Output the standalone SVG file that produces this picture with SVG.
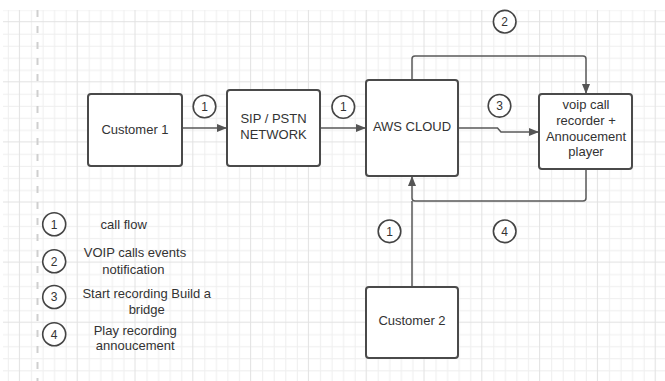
<svg xmlns="http://www.w3.org/2000/svg" width="665" height="381" viewBox="0 0 665 381">
<defs>
<pattern id="grid" patternUnits="userSpaceOnUse" x="18.9" y="21.2" width="57.8" height="60.1">
<rect x="0" y="0" width="57.8" height="60.1" fill="#ffffff"/>
<g fill="#efefef">
<rect x="12.06" y="0" width="1" height="60.1"/>
<rect x="23.62" y="0" width="1" height="60.1"/>
<rect x="35.18" y="0" width="1" height="60.1"/>
<rect x="46.74" y="0" width="1" height="60.1"/>
<rect x="0" y="12.52" width="57.8" height="1"/>
<rect x="0" y="24.54" width="57.8" height="1"/>
<rect x="0" y="36.56" width="57.8" height="1"/>
<rect x="0" y="48.58" width="57.8" height="1"/>
</g>
<g fill="#e2e2e2">
<rect x="0" y="0" width="1" height="60.1"/>
<rect x="0" y="0" width="57.8" height="1"/>
</g>
</pattern>
<marker id="arr" viewBox="0 0 10 8" refX="10" refY="4" markerWidth="10" markerHeight="8" markerUnits="userSpaceOnUse" orient="auto">
<path d="M0,0 L10,4 L0,8 Z" fill="#555555"/>
</marker>
<style>
.node rect{fill:#ffffff;stroke:#4a4a4a;stroke-width:2}
.t{font-family:"Liberation Sans",Arial,sans-serif;font-size:13px;fill:#333333;text-anchor:middle}
.badge circle{fill:#ffffff;stroke:#444444;stroke-width:1.6}
.badge text{font-family:"Liberation Sans",Arial,sans-serif;font-size:12px;fill:#333333;text-anchor:middle}
.conn{fill:none;stroke:#595959;stroke-width:1.5}
</style>
</defs>
<rect x="0" y="0" width="665" height="381" fill="#ffffff"/>
<rect x="3" y="10" width="662" height="371" fill="url(#grid)"/>
<line x1="37.5" y1="10" x2="37.5" y2="381" stroke="#cfcfcf" stroke-width="2" stroke-dasharray="7,9"/>

<g id="connectors">
<path class="conn" d="M182,128 L227,128" marker-end="url(#arr)"/>
<path class="conn" d="M320,128 L366,128" marker-end="url(#arr)"/>
<path class="conn" d="M412,80 L412,59 Q412,56 415,56 L583,56 Q586,56 586,59 L586,94" marker-end="url(#arr)"/>
<path class="conn" d="M458,128 L497.5,128 L501,132 L539,132" marker-end="url(#arr)"/>
<path class="conn" d="M586,169 L586,198 Q586,201 583,201 L415,201 Q412,201 412,198 L412,176" marker-end="url(#arr)"/>
<path class="conn" d="M412,287 L412,201"/>
</g>

<g id="customer1" class="node">
<rect x="88" y="94" width="94" height="72" rx="3"/>
<text class="t" x="135" y="133.5">Customer 1</text>
</g>
<g id="sip" class="node">
<rect x="227" y="90" width="93" height="76" rx="3"/>
<text class="t" x="273.5" y="123">SIP / PSTN</text>
<text class="t" x="273.5" y="139">NETWORK</text>
</g>
<g id="aws" class="node">
<rect x="366" y="80" width="92" height="96" rx="3"/>
<text class="t" x="412" y="131">AWS CLOUD</text>
</g>
<g id="recorder" class="node">
<rect x="539" y="94" width="93" height="75" rx="3"/>
<text class="t" x="586" y="108.5">voip call</text>
<text class="t" x="586" y="124.5">recorder +</text>
<text class="t" x="586" y="140.5">Annoucement</text>
<text class="t" x="586" y="156">player</text>
</g>
<g id="customer2" class="node">
<rect x="366" y="287" width="92" height="71" rx="3"/>
<text class="t" x="412" y="324.5">Customer 2</text>
</g>

<g id="badges" class="badge">
<g id="b1a"><circle cx="204.5" cy="106.5" r="11.3"/><text x="204.5" y="110.8">1</text></g>
<g id="b1b"><circle cx="343.3" cy="107" r="11.3"/><text x="343.3" y="111.3">1</text></g>
<g id="b2"><circle cx="504.7" cy="21.7" r="11.3"/><text x="504.7" y="26">2</text></g>
<g id="b3"><circle cx="499.5" cy="105.8" r="11.3"/><text x="499.5" y="110.1">3</text></g>
<g id="b4"><circle cx="504.7" cy="231.3" r="11.3"/><text x="504.7" y="235.6">4</text></g>
<g id="b1c"><circle cx="389.5" cy="231.3" r="11.3"/><text x="389.5" y="235.6">1</text></g>
</g>

<g id="legend">
<g class="badge">
<circle cx="54.2" cy="224.2" r="11.5"/><text x="54.2" y="228.5">1</text>
<circle cx="54.2" cy="261.3" r="11.5"/><text x="54.2" y="265.6">2</text>
<circle cx="54.2" cy="297" r="11.5"/><text x="54.2" y="301.3">3</text>
<circle cx="54.2" cy="334.2" r="11.5"/><text x="54.2" y="338.5">4</text>
</g>
<text class="t" x="123.7" y="228.8">call flow</text>
<text class="t" x="135" y="257">VOIP calls events</text>
<text class="t" x="133.3" y="273.5">notification</text>
<text class="t" x="146.7" y="298">Start recording Build a</text>
<text class="t" x="146.7" y="313.5">bridge</text>
<text class="t" x="135.2" y="334.5">Play recording</text>
<text class="t" x="135.2" y="349.5">annoucement</text>
</g>
</svg>
